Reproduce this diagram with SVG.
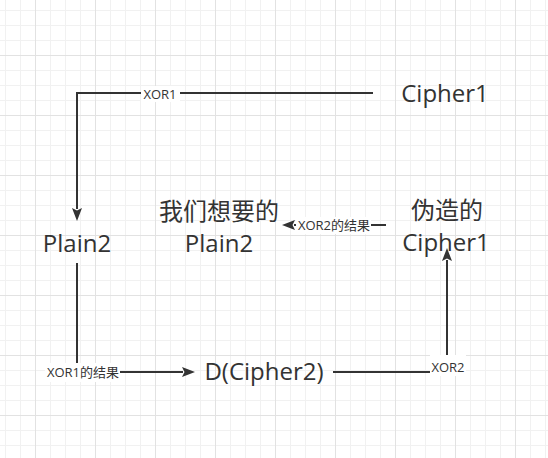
<svg xmlns="http://www.w3.org/2000/svg" width="548" height="458" viewBox="0 0 548 458">
  <defs>
    <pattern id="grid" patternUnits="userSpaceOnUse" x="35" y="55" width="60" height="60">
      <path d="M15.5,0 V60 M30.5,0 V60 M45.5,0 V60 M0,15.5 H60 M0,30.5 H60 M0,45.5 H60" stroke="#f1f1f1" stroke-width="1" fill="none"/>
      <path d="M0.5,0 V60 M0,0.5 H60" stroke="#e2e2e2" stroke-width="1" fill="none"/>
    </pattern>
    <marker id="arrow" viewBox="0 0 13 10" refX="1" refY="5" markerWidth="13" markerHeight="10" markerUnits="userSpaceOnUse" orient="auto">
      <path d="M0,0 L13,5 L0,10 L2.5,5 z" fill="#333333"/>
    </marker>
    <style>
      .node { font-family: "Open Sans", "Noto Sans CJK SC", sans-serif; font-size: 24px; fill: #333333; text-anchor: middle; }
      .edge { fill: none; stroke: #333333; stroke-width: 2; }
      .lbl { font-family: "Open Sans", "Noto Sans CJK SC", sans-serif; font-size: 13px; fill: #333333; text-anchor: middle; }
      .lblbg { fill: #ffffff; }
    </style>
  </defs>

  <rect x="0" y="0" width="548" height="458" fill="#ffffff"/>
  <rect x="0" y="0" width="548" height="458" fill="url(#grid)"/>

  <g id="connectors">
    <path class="edge" d="M373,93 H77 V209" marker-end="url(#arrow)"/>
    <path class="edge" d="M77,263 V372 H183" marker-end="url(#arrow)"/>
    <path class="edge" d="M333,372 H447 V260" marker-end="url(#arrow)"/>
    <path class="edge" d="M386,225 H294" marker-end="url(#arrow)"/>

    <rect class="lblbg" x="141" y="86" width="39" height="16"/>
    <text class="lbl" x="160" y="98.5">XOR1</text>

    <rect class="lblbg" x="296" y="217" width="75" height="17"/>
    <text class="lbl" x="334" y="230">XOR2的结果</text>

    <rect class="lblbg" x="45" y="363" width="75" height="19"/>
    <text class="lbl" x="83" y="377">XOR1的结果</text>

    <rect class="lblbg" x="430" y="355" width="36" height="21"/>
    <text class="lbl" x="448" y="372">XOR2</text>
  </g>

  <g id="cipher1">
    <text class="node" x="445" y="102">Cipher1</text>
  </g>
  <g id="plain2">
    <text class="node" x="77" y="252">Plain2</text>
  </g>
  <g id="wanted-plain2">
    <text class="node" x="219" y="220">我们想要的</text>
    <text class="node" x="219" y="252">Plain2</text>
  </g>
  <g id="forged-cipher1">
    <text class="node" x="447" y="219">伪造的</text>
    <text class="node" x="446" y="251">Cipher1</text>
  </g>
  <g id="d-cipher2">
    <text class="node" x="264" y="380">D(Cipher2)</text>
  </g>
</svg>
